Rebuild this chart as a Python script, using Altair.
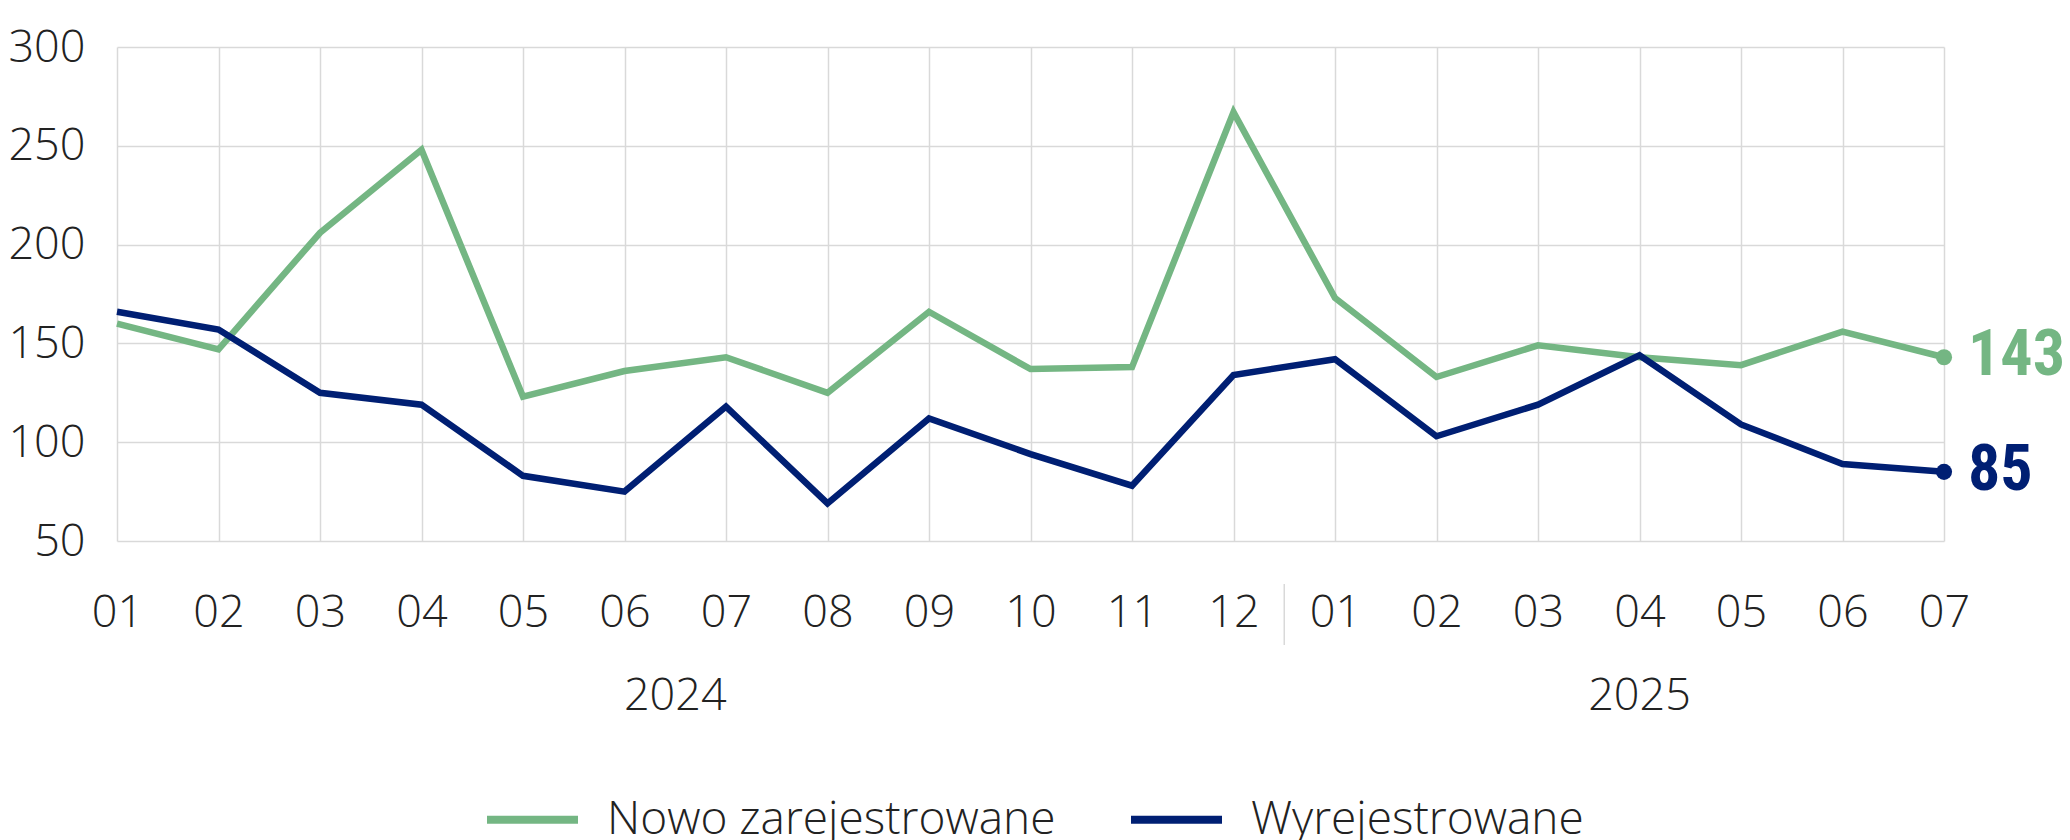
import altair as alt
import pandas as pd

# ---- data ----
months = ["01", "02", "03", "04", "05", "06", "07", "08", "09", "10", "11", "12",
          "01", "02", "03", "04", "05", "06", "07"]
years = ["2024"] * 12 + ["2025"] * 7
nowo = [160, 147, 206, 248, 123, 136, 143, 125, 166, 137, 138, 267,
        173, 133, 149, 143, 139, 156, 143]
wyrej = [166, 157, 125, 119, 83, 75, 118, 69, 112, 94, 78, 134,
         142, 103, 119, 144, 109, 89, 85]
series_names = ["Nowo zarejestrowane", "Wyrejestrowane"]
colors = ["#74B683", "#001F73"]
y_ticks = [50, 100, 150, 200, 250, 300]

rows = []
for name, vals in zip(series_names, [nowo, wyrej]):
    for i, (m, yr, v) in enumerate(zip(months, years, vals)):
        rows.append({"idx": i, "month": m, "year": yr, "series": name, "value": v})
df = pd.DataFrame(rows)
last_idx = len(months) - 1
sep_pos = years.count("2024") - 0.5

FONT = "Open Sans"
LABEL_FONT = "Liberation Sans Narrow, Roboto Condensed, Roboto"
TEXT_COLOR = "#222222"

label_expr = "[" + ",".join("'%s'" % m for m in months) + "][datum.value]"

x_enc = alt.X(
    "idx:Q",
    scale=alt.Scale(domain=[0, last_idx], nice=False, zero=False),
    axis=alt.Axis(values=list(range(len(months))), labelExpr=label_expr, title=None,
                  labelPadding=49, labelAlign="center", labelBaseline="top"),
)
y_enc = alt.Y(
    "value:Q",
    scale=alt.Scale(domain=[y_ticks[0], y_ticks[-1]], nice=False, zero=False),
    axis=alt.Axis(values=y_ticks, title=None, labelPadding=32),
)
color_enc = alt.Color(
    "series:N",
    scale=alt.Scale(domain=series_names, range=colors),
    legend=alt.Legend(
        orient="none", legendX=366, legendY=723, direction="horizontal", title=None,
        symbolType="stroke", symbolSize=8281, symbolStrokeWidth=8,
        labelFontSize=46, labelFont=FONT, labelFontWeight=300, labelColor=TEXT_COLOR,
        labelOffset=25, columnPadding=59, labelLimit=0, padding=0,
    ),
)

base = alt.Chart(df)

layers = []
for name in series_names:
    layers.append(
        base.transform_filter(alt.datum.series == name)
        .mark_line(strokeWidth=6.5, strokeJoin="miter")
        .encode(x=x_enc, y=y_enc, color=color_enc)
    )

points = base.transform_filter(alt.datum.idx == last_idx).mark_circle(size=260, opacity=1).encode(
    x=x_enc, y=y_enc, color=color_enc
)
end_labels = base.transform_filter(alt.datum.idx == last_idx).mark_text(
    align="left", baseline="middle", dx=24, dy=-1, fontSize=64, fontWeight="bold", font=LABEL_FONT
).encode(x=x_enc, y=y_enc, color=alt.Color("series:N", scale=alt.Scale(domain=series_names, range=colors), legend=None),
         text="value:Q")

year_labels = base.transform_filter(alt.datum.series == series_names[0]).transform_aggregate(
    idx="mean(idx)", groupby=["year"]
).mark_text(fontSize=45, font=FONT, fontWeight=300, color=TEXT_COLOR, baseline="middle", align="center").encode(
    x=x_enc, y=alt.value(649), text="year:N"
)

separator = alt.Chart(pd.DataFrame({"idx": [sep_pos]})).mark_rule(color="#D9D9D9", strokeWidth=1.5).encode(
    x=x_enc, y=alt.value(537), y2=alt.value(598)
)

chart = alt.layer(separator, *layers, points, end_labels, year_labels).properties(
    width=1827, height=494,
    autosize=alt.AutoSizeParams(type="none"),
    padding={"left": 117, "top": 47, "right": 126, "bottom": 299},
).configure_view(stroke=None).configure_axis(
    grid=True, gridColor="#D9D9D9", gridWidth=1.5, domain=False, ticks=False, tickSize=0,
    labelFont=FONT, labelFontSize=45, labelFontWeight=300, labelColor=TEXT_COLOR,
)

chart.save("out.html", embed_options={"renderer": "svg", "actions": False})
